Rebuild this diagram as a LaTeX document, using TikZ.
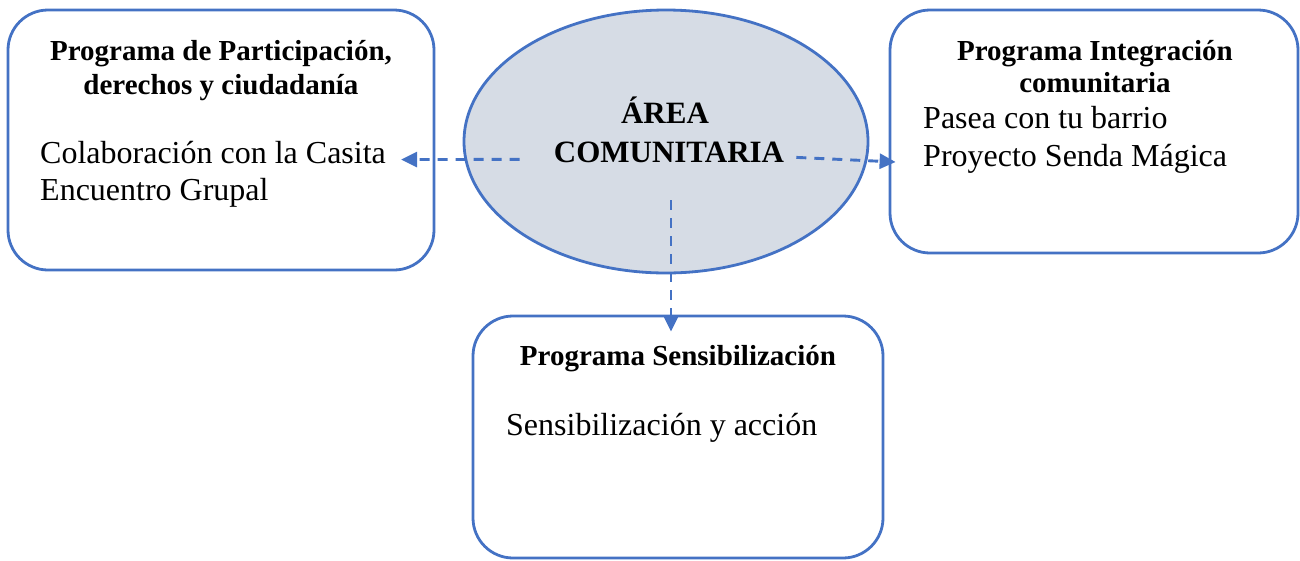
\documentclass[tikz,border=0pt]{standalone}
\usepackage{fontspec}
\setmainfont{Liberation Serif}
\usepackage{tikz}
\usetikzlibrary{arrows.meta,shapes.geometric}
\definecolor{progblue}{HTML}{4472C4}
\definecolor{areafill}{HTML}{D6DCE5}
\tikzset{
  prog/.style={draw=progblue, line width=2.8pt, rounded corners=40pt, inner sep=0pt},
  hub/.style={ellipse, draw=progblue, fill=areafill, line width=2.8pt, inner sep=0pt,
    minimum width=404pt, minimum height=263pt},
  head/.style={anchor=base, inner sep=0pt, font=\fontsize{29}{35}\bfseries},
  item/.style={anchor=base west, inner sep=0pt, font=\fontsize{32}{37}\selectfont},
  big/.style={anchor=base, inner sep=0pt, font=\fontsize{31}{39}\bfseries},
  link/.style={draw=progblue, line width=2.9pt, dash pattern=on 10pt off 8pt,
    -{Triangle[length=16pt,width=15pt]}},
}
\begin{document}
\begin{tikzpicture}[x=1pt,y=-1pt]
  \useasboundingbox (0,0) rectangle (1300,560);
  % boxes
  \node[prog, minimum width=426pt, minimum height=260pt] (partbox) at (221,140) {};
  \node[prog, minimum width=408pt, minimum height=243pt] (intbox) at (1094,131.5) {};
  \node[prog, minimum width=410pt, minimum height=242pt] (sensbox) at (678,437) {};
  \node[hub] (area) at (666,141.5) {};
  % centre
  \node[big] (areaword) at (665,123) {ÁREA};
  \node[big] (comword) at (669,162) {COMUNITARIA};
  % left
  \node[head] (parthead1) at (221,60) {Programa de Participación,};
  \node[head] (parthead2) at (221,94.5) {derechos y ciudadanía};
  \node[item] (casita) at (40,163.5) {Colaboración con la Casita};
  \node[item] (grupal) at (40,200) {Encuentro Grupal};
  % right
  \node[head] (inthead1) at (1095,60) {Programa Integración};
  \node[head] (inthead2) at (1095,92) {comunitaria};
  \node[item] (pasea) at (923,128.5) {Pasea con tu barrio};
  \node[item] (senda) at (923,166) {Proyecto Senda Mágica};
  % bottom
  \node[head] (senshead) at (678,365) {Programa Sensibilización};
  \node[item] (accion) at (506,435) {Sensibilización y acción};
  % links
  \draw[link] ([xshift=-34pt,yshift=-7.5pt]comword.west) -- ([xshift=15pt,yshift=-7pt]casita.east);
  \draw[link] ([xshift=12pt,yshift=-5.5pt]comword.east) -- ([xshift=7pt,yshift=-30.5pt]intbox.west);
  \draw[link] ([xshift=5pt,yshift=-58.5pt]area.center) -- ([xshift=-7pt,yshift=-17pt]sensbox.north);
\end{tikzpicture}
\end{document}
